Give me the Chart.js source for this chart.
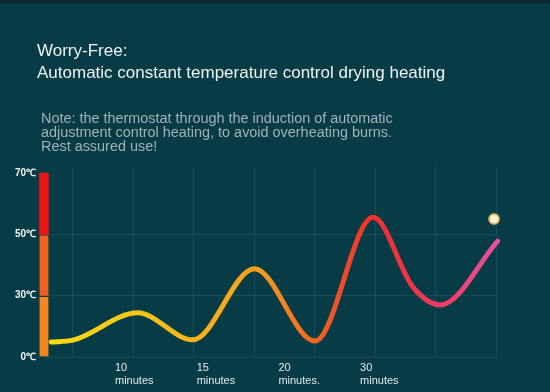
<!DOCTYPE html>
<html>
<head>
<meta charset="utf-8">
<script src="https://cdn.jsdelivr.net/npm/chart.js@4/dist/chart.umd.min.js"></script>
<style>
html,body{margin:0;padding:0;background:#073b45;}
#wrap{position:relative;width:550px;height:392px;overflow:hidden;background:#073b45;}
#topbar{position:absolute;left:0;top:0;width:550px;height:3px;background:#0b2b31;}
#c{position:absolute;left:0;top:0;}
.title{position:absolute;left:37px;top:40px;font-family:'Liberation Sans',Arial,sans-serif;font-size:17px;line-height:22px;color:#eef3f3;white-space:nowrap;}
.note{position:absolute;left:41px;top:111px;font-family:'Liberation Sans',Arial,sans-serif;font-size:15.5px;line-height:14px;color:#a3b3b6;white-space:nowrap;transform:scaleX(0.93);transform-origin:0 0;}
</style>
</head>
<body>
<div id="wrap">
  <div id="topbar"></div>
  <canvas id="c" width="550" height="392"></canvas>
  <div class="title">Worry-Free:<br>Automatic constant temperature control drying heating</div>
  <div class="note">Note: the thermostat through the induction of automatic<br>adjustment control heating, to avoid overheating burns.<br>Rest assured use!</div>
</div>
<script>
// ---- data ----
const tempLabels = ['0℃', '30℃', '50℃', '70℃'];
const tempTicks = [0, 1, 2, 3];
const timeLabels = [['10', 'minutes'], ['15', 'minutes'], ['20', 'minutes.'], ['30', 'minutes']];
const timeTicks = [0, 1, 2, 3];
const gridX = [0, 1, 2, 3, 4, 5, 6, 7];
const curveX = [-0.36, 0, 1.07, 1.98, 3.0, 4.0, 4.96, 5.62, 6.07, 7.02];
const curveY = [0.245, 0.275, 0.72, 0.28, 1.44, 0.26, 2.28, 1.14, 0.85, 1.89];
const markerX = [6.96];
const markerY = [2.25];
const bandRanges = [[0, 1], [1, 2], [2, 3]];
const bandColors = ['#f5861f', '#f2601f', '#ea1515'];
const gradientX = [-0.36, 1.07, 3.0, 4.0, 4.96, 6.07, 7.02];
const gradientColors = ['#f8d915', '#f6c61a', '#f6a01e', '#f06522', '#ef2f2c', '#ee3b62', '#e6529a'];

// ---- layout constants ----
const X_MIN = -0.479, X_MAX = 7.009;
const XL_MIN = -0.869, XL_MAX = 4.676;
const Y_MIN = 0, Y_MAX = 3.1;
const gridColor = 'rgba(120,160,175,0.16)';

function curveGradient(ctx) {
  const chart = ctx.chart;
  const area = chart.chartArea;
  const xs = chart.scales.x;
  if (!area || !xs) return gradientColors[0];
  const x0 = xs.getPixelForValue(gradientX[0]);
  const x1 = xs.getPixelForValue(gradientX[gradientX.length - 1]);
  const g = chart.ctx.createLinearGradient(x0, 0, x1, 0);
  gradientX.forEach((v, i) => {
    const p = (xs.getPixelForValue(v) - x0) / (x1 - x0);
    g.addColorStop(Math.min(1, Math.max(0, p)), gradientColors[i]);
  });
  return g;
}

new Chart(document.getElementById('c'), {
  data: {
    datasets: [
      {
        type: 'bar',
        data: bandRanges.map(r => ({ x: X_MIN, y: r })),
        backgroundColor: bandColors,
        borderColor: '#1f3238',
        borderWidth: (c) => c.dataIndex < bandRanges.length - 1 ? { top: 1.5, right: 0, bottom: 0, left: 0 } : 0,
        borderSkipped: false,
        barThickness: 9,
        grouped: false,
        clip: false,
        xAxisID: 'x', yAxisID: 'y',
        order: 3
      },
      {
        type: 'line',
        data: curveX.map((x, i) => ({ x: x, y: curveY[i] })),
        borderColor: curveGradient,
        borderWidth: 5,
        borderCapStyle: 'round',
        borderJoinStyle: 'round',
        cubicInterpolationMode: 'monotone',
        pointRadius: 0,
        fill: false,
        clip: false,
        xAxisID: 'x', yAxisID: 'y',
        order: 2
      },
      {
        type: 'line',
        data: markerX.map((x, i) => ({ x: x, y: markerY[i] })),
        showLine: false,
        pointRadius: 5,
        pointBackgroundColor: '#fff2d2',
        pointBorderColor: 'rgba(222,170,90,0.85)',
        pointBorderWidth: 2,
        clip: false,
        xAxisID: 'x', yAxisID: 'y',
        order: 1
      }
    ]
  },
  options: {
    responsive: false,
    animation: false,
    events: [],
    layout: { padding: { top: 167, right: 53, bottom: 0, left: 0 } },
    plugins: { legend: { display: false }, tooltip: { enabled: false }, title: { display: false } },
    scales: {
      x: {
        type: 'linear', position: 'bottom', min: X_MIN, max: X_MAX, offset: false,
        afterBuildTicks: (s) => { s.ticks = gridX.map(v => ({ value: v })); },
        afterFit: (s) => { s.height = 0; },
        ticks: { display: false },
        grid: { color: gridColor, lineWidth: 1, drawTicks: false, offset: false },
        border: { display: false }
      },
      xl: {
        type: 'linear', position: 'bottom', min: XL_MIN, max: XL_MAX, offset: false,
        afterBuildTicks: (s) => { s.ticks = timeTicks.map(v => ({ value: v })); },
        afterFit: (s) => { s.height = 35; },
        ticks: {
          callback: (v, i) => timeLabels[i],
          align: 'start', autoSkip: false, maxRotation: 0, padding: 5,
          color: '#e4ecee',
          font: { family: "'Liberation Sans', sans-serif", size: 11, lineHeight: 1.15 }
        },
        grid: { display: false, drawTicks: false },
        border: { display: false }
      },
      y: {
        type: 'linear', position: 'left', min: Y_MIN, max: Y_MAX,
        afterBuildTicks: (s) => { s.ticks = tempTicks.map(v => ({ value: v })); },
        afterFit: (s) => { s.width = 44; },
        ticks: {
          callback: (v, i) => tempLabels[i],
          padding: 8, autoSkip: false,
          color: '#f2f5f5',
          font: { family: "'Liberation Sans', sans-serif", size: 10, weight: 'bold' }
        },
        grid: {
          color: (c) => (c.tick && c.tick.value >= 3) ? 'rgba(0,0,0,0)' : gridColor,
          drawTicks: false
        },
        border: { display: false }
      }
    }
  }
});
</script>
</body>
</html>
